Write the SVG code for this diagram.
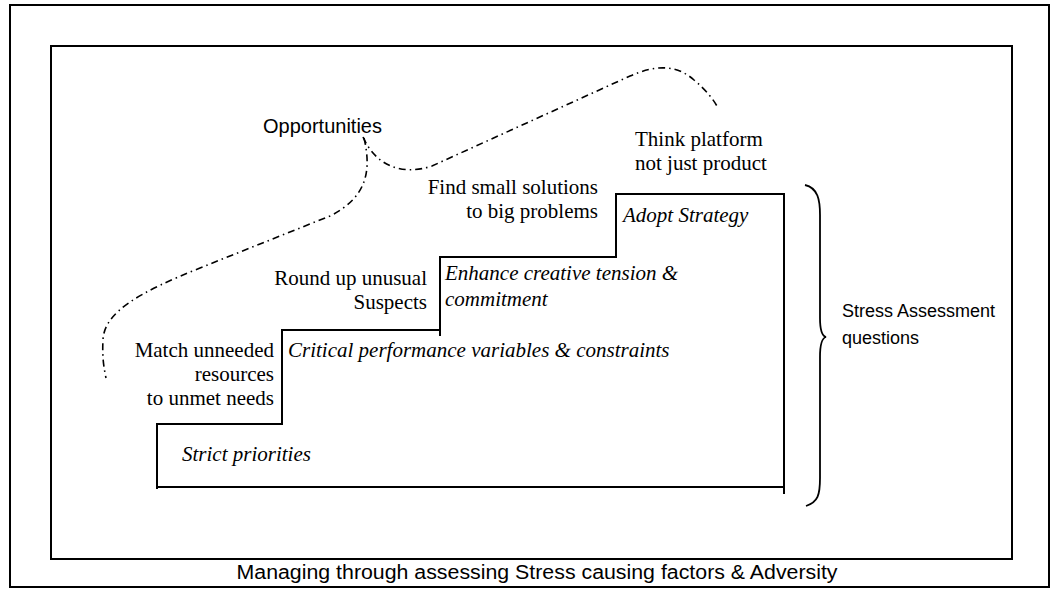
<svg xmlns="http://www.w3.org/2000/svg" width="1059" height="592" viewBox="0 0 1059 592">
  <style>
    .frame { fill: none; stroke: #000; stroke-width: 2; }
    .stair { fill: none; stroke: #000; stroke-width: 2; stroke-linecap: square; }
    .dashdot { fill: none; stroke: #000; stroke-width: 1.6; stroke-dasharray: 7 4 1.5 4; }
    .brace { fill: none; stroke: #000; stroke-width: 1.8; }
    .serif { font-family: "Liberation Serif", "Times New Roman", serif; font-size: 21px; fill: #000; }
    .ital { font-style: italic; }
    .sans { font-family: "Liberation Sans", Arial, sans-serif; fill: #000; }
  </style>
  <rect width="1059" height="592" fill="#fff"/>

  <!-- outer and inner frames -->
  <rect class="frame" x="10" y="5" width="1039" height="582" stroke="#333"/>
  <rect class="frame" x="51" y="46" width="961" height="513"/>

  <!-- connectors: staircase, dash-dot curves and brace -->
  <g id="connectors">
    <path class="stair" d="M157,488 L157,424 L282,424 L282,330 L440,330 M440,335 L440,257 L616,257 L616,194 L784,194 L784,493 M157,487 L784,487"/>
    <path class="dashdot" d="M364,138 C372,172 366,198 330,216 L200,268 C140,292 104,312 103,340 C102,358 104,368 106,378"/>
    <path class="dashdot" d="M363,137 C376,166 402,176 432,166 L630,76 C655,65 676,64 694,80 C706,90 714,100 718,108"/>
    <path class="brace" d="M805,185 C818,188 820,200 820,215 L820,318 C820,330 822,336 826,337 C822,338 820,345 820,357 L820,478 C820,495 818,502 806,506"/>
  </g>

  <g id="opportunities">
    <text class="sans" x="263" y="133" font-size="20">Opportunities</text>
  </g>

  <g id="think-platform">
    <text class="serif" x="635" y="146">Think platform</text>
    <text class="serif" x="635" y="170">not just product</text>
  </g>

  <g id="find-small">
    <text class="serif" x="598" y="194" text-anchor="end">Find small solutions</text>
    <text class="serif" x="598" y="218" text-anchor="end">to big problems</text>
  </g>

  <g id="round-up">
    <text class="serif" x="427" y="285" text-anchor="end">Round up unusual</text>
    <text class="serif" x="427" y="309" text-anchor="end">Suspects</text>
  </g>

  <g id="match-unneeded">
    <text class="serif" x="274" y="357" text-anchor="end">Match unneeded</text>
    <text class="serif" x="274" y="381" text-anchor="end">resources</text>
    <text class="serif" x="274" y="405" text-anchor="end">to unmet needs</text>
  </g>

  <g id="adopt-strategy">
    <text class="serif ital" x="623" y="222">Adopt Strategy</text>
  </g>

  <g id="enhance">
    <text class="serif ital" x="445" y="280">Enhance creative tension &amp;</text>
    <text class="serif ital" x="445" y="306">commitment</text>
  </g>

  <g id="critical">
    <text class="serif ital" x="288" y="357">Critical performance variables &amp; constraints</text>
  </g>

  <g id="strict">
    <text class="serif ital" x="182" y="461">Strict priorities</text>
  </g>

  <g id="stress-assessment">
    <text class="sans" x="842" y="317" font-size="18">Stress Assessment</text>
    <text class="sans" x="842" y="344" font-size="18">questions</text>
  </g>

  <g id="caption">
    <text class="sans" x="537" y="579" font-size="20" text-anchor="middle" textLength="601" lengthAdjust="spacingAndGlyphs">Managing through assessing Stress causing factors &amp; Adversity</text>
  </g>
</svg>
